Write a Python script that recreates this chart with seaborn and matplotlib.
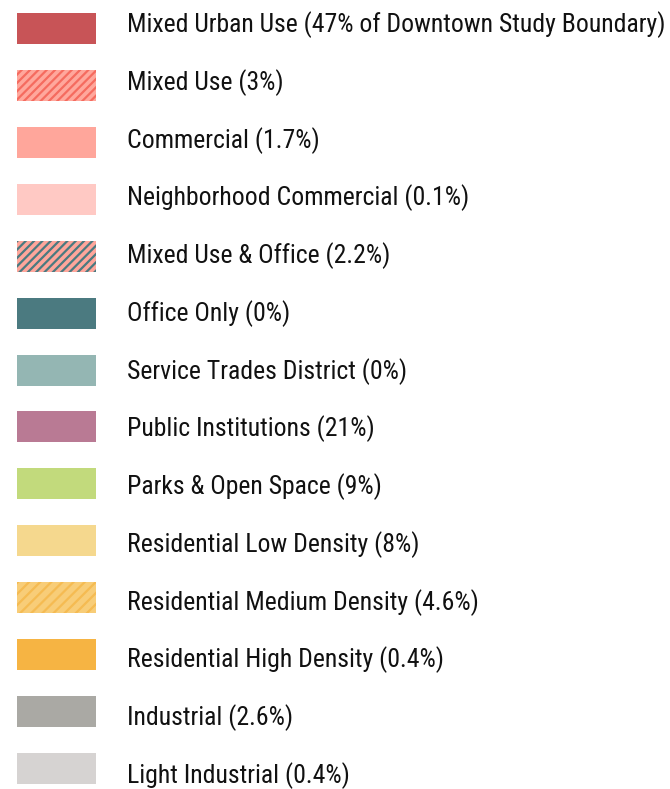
import matplotlib
matplotlib.use("Agg")
import matplotlib.pyplot as plt
import pandas as pd
import seaborn as sns

# legend entries of the land-use map
LABELS = [
    "Mixed Urban Use (47% of Downtown Study Boundary)",
    "Mixed Use (3%)",
    "Commercial (1.7%)",
    "Neighborhood Commercial (0.1%)",
    "Mixed Use & Office (2.2%)",
    "Office Only (0%)",
    "Service Trades District (0%)",
    "Public Institutions (21%)",
    "Parks & Open Space (9%)",
    "Residential Low Density (8%)",
    "Residential Medium Density (4.6%)",
    "Residential High Density (0.4%)",
    "Industrial (2.6%)",
    "Light Industrial (0.4%)",
]

FILL_COLORS = [
    "#c85457", "#ffa79c", "#ffa69b", "#ffc9c4", "#ffa69b", "#4b7a80", "#94b6b3",
    "#b97a94", "#c2da7c", "#f5d88e", "#f8cd78", "#f6b443", "#aaa9a4", "#d6d3d2",
]

# hatch stripe colour and pattern, None = plain swatch
HATCH_COLORS = [
    None, "#f56b5f", None, None, "#4b7a80", None, None,
    None, None, None, "#f5bb52", None, None, None,
]
HATCHES = [
    None, "////", None, None, "////", None, None,
    None, None, None, "///", None, None, None,
]

FONT = ["Roboto Condensed", "Liberation Sans Narrow", "Roboto", "DejaVu Sans"]

plt.rcParams["hatch.linewidth"] = 1.6

df = pd.DataFrame({"label": LABELS, "swatch": [79] * len(LABELS)})

fig = plt.figure(figsize=(6.7, 7.89), dpi=100)
ax = fig.add_axes([0, 0, 1, 1])

sns.barplot(
    data=df,
    x="swatch",
    y="label",
    hue="label",
    palette=FILL_COLORS,
    saturation=1,
    width=0.545,
    legend=False,
    orient="h",
    ax=ax,
)

for patch, hatch, hatch_color in zip(ax.patches, HATCHES, HATCH_COLORS):
    patch.set_linewidth(0)
    if hatch:
        patch.set_hatch(hatch)
        patch.set_edgecolor(hatch_color)

# text rows are spaced a little wider than the swatches
row_px = 56.92
for i, label in enumerate(LABELS):
    baseline = (32 + i * 57.77 - 28.5) / row_px
    ax.text(
        110, baseline, label,
        va="baseline", ha="left",
        fontsize=18.5, color="#111111",
        family=FONT,
    )

ax.set_xlim(-17, 653)
ax.set_ylim((789 - 28.5) / row_px, -28.5 / row_px)
ax.axis("off")

fig.savefig("out.png", dpi=100, facecolor="white")
